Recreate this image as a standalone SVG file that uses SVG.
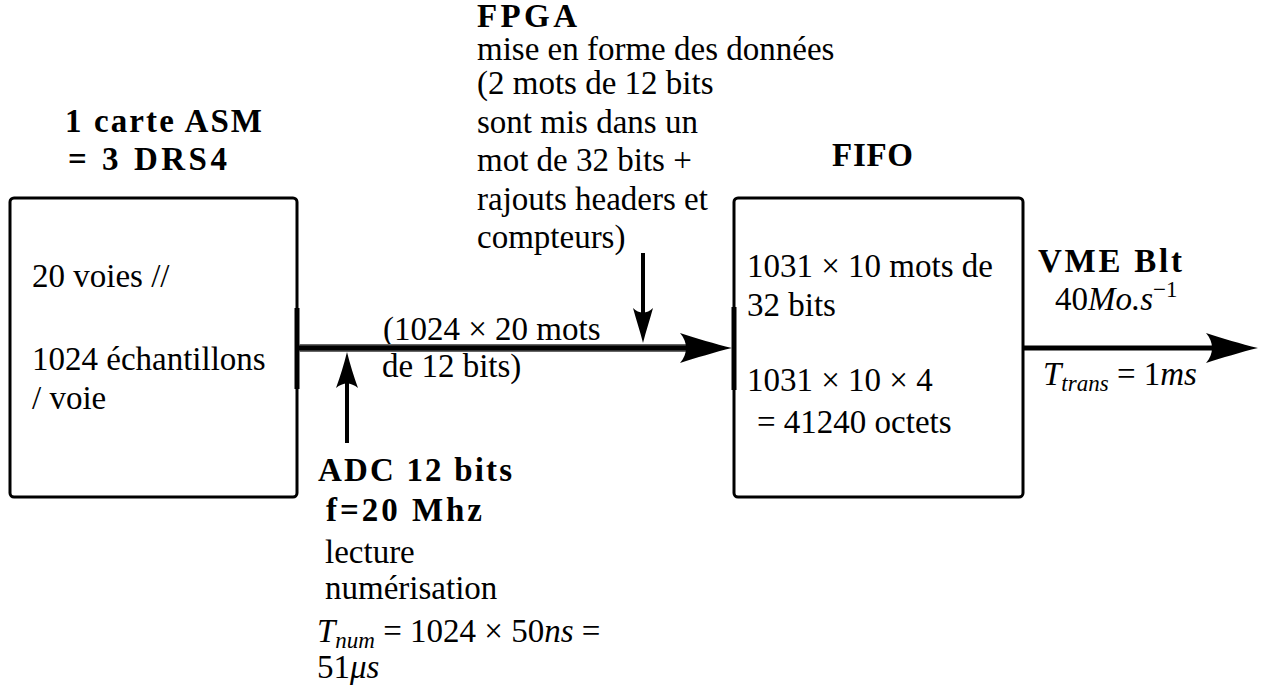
<svg xmlns="http://www.w3.org/2000/svg" width="1269" height="686" viewBox="0 0 1269 686">
<defs>
  <path id="ah" d="M0,0 C-17,-4 -36,-10 -52,-15 C-44,-6 -44,6 -52,15 C-36,10 -17,4 0,0Z" fill="#000"/>
</defs>
<rect width="1269" height="686" fill="#fff"/>
<g id="asm">
  <rect x="10" y="198" width="287" height="299" rx="4" fill="none" stroke="#000" stroke-width="3"/>
</g>
<text font-family="Liberation Serif" font-size="33" font-weight="bold" x="65" y="132" textLength="197" lengthAdjust="spacing">1 carte ASM</text>
<text font-family="Liberation Serif" font-size="33" font-weight="bold" x="68" y="170" textLength="159" lengthAdjust="spacing">= 3 DRS4</text>
<text font-family="Liberation Serif" font-size="33" x="32" y="287">20 voies //</text>
<text font-family="Liberation Serif" font-size="33" x="32" y="370">1024 échantillons</text>
<text font-family="Liberation Serif" font-size="33" x="32" y="409">/ voie</text>
<g id="fifo">
  <rect x="734" y="198" width="289" height="299" rx="4" fill="none" stroke="#000" stroke-width="3"/>
</g>
<text font-family="Liberation Serif" font-size="33" font-weight="bold" x="832" y="166" textLength="81" lengthAdjust="spacing">FIFO</text>
<text font-family="Liberation Serif" font-size="33" x="747" y="277">1031 × 10 mots de</text>
<text font-family="Liberation Serif" font-size="33" x="747" y="316">32 bits</text>
<text font-family="Liberation Serif" font-size="33" x="747" y="391">1031 × 10 × 4</text>
<text font-family="Liberation Serif" font-size="33" x="757" y="433">= 41240 octets</text>
<text font-family="Liberation Serif" font-size="33" font-weight="bold" x="477" y="27" textLength="100" lengthAdjust="spacing">FPGA</text>
<text font-family="Liberation Serif" font-size="33" x="477" y="60">mise en forme des données</text>
<text font-family="Liberation Serif" font-size="33" x="477" y="94">(2 mots de 12 bits</text>
<text font-family="Liberation Serif" font-size="33" x="477" y="133">sont mis dans un</text>
<text font-family="Liberation Serif" font-size="33" x="477" y="171">mot de 32 bits +</text>
<text font-family="Liberation Serif" font-size="33" x="477" y="210">rajouts headers et</text>
<text font-family="Liberation Serif" font-size="33" x="477" y="248">compteurs)</text>
<text font-family="Liberation Serif" font-size="33" font-weight="bold" x="318" y="481" textLength="194" lengthAdjust="spacing">ADC 12 bits</text>
<text font-family="Liberation Serif" font-size="33" font-weight="bold" x="326" y="521" textLength="156" lengthAdjust="spacing">f=20 Mhz</text>
<text font-family="Liberation Serif" font-size="33" x="325" y="563">lecture</text>
<text font-family="Liberation Serif" font-size="33" x="325" y="599">numérisation</text>
<text font-family="Liberation Serif" font-size="33" x="317" y="642"><tspan font-style="italic">T</tspan><tspan font-style="italic" font-size="23" dy="6">num</tspan><tspan dy="-6"> = 1024 × 50</tspan><tspan font-style="italic">ns</tspan> =</text>
<text font-family="Liberation Serif" font-size="33" x="317" y="678">51<tspan font-style="italic">μs</tspan></text>
<text font-family="Liberation Serif" font-size="33" x="383" y="340">(1024 × 20 mots</text>
<text font-family="Liberation Serif" font-size="33" x="382" y="377">de 12 bits)</text>
<text font-family="Liberation Serif" font-size="33" font-weight="bold" x="1038" y="272" textLength="144" lengthAdjust="spacing">VME Blt</text>
<text font-family="Liberation Serif" font-size="33" x="1055" y="310">40<tspan font-style="italic">Mo.s</tspan><tspan font-size="23" dy="-13">−1</tspan></text>
<text font-family="Liberation Serif" font-size="33" x="1043" y="385"><tspan font-style="italic">T</tspan><tspan font-style="italic" font-size="23" dy="6">trans</tspan><tspan dy="-6"> = 1</tspan><tspan font-style="italic">ms</tspan></text>
<g id="connectors">
  <line x1="297" y1="308" x2="297" y2="389" stroke="#000" stroke-width="5"/>
  <line x1="734" y1="307" x2="734" y2="390" stroke="#000" stroke-width="5"/>
  <line x1="299" y1="348" x2="692" y2="348" stroke="#666" stroke-width="8"/>
  <line x1="299" y1="348" x2="692" y2="348" stroke="#000" stroke-width="5"/>
  <use href="#ah" transform="translate(732,348)"/>
  <line x1="347" y1="443" x2="347" y2="375" stroke="#000" stroke-width="4"/>
  <path d="M347,352 C344,364 340,377 336,388 C343,382 351,382 358,388 C354,377 350,364 347,352Z" fill="#000"/>
  <line x1="643" y1="253" x2="643" y2="320" stroke="#000" stroke-width="4"/>
  <path d="M643,343 C640,331 636,319 633,308 C639,314 647,314 653,308 C650,319 646,331 643,343Z" fill="#000"/>
  <line x1="1023" y1="348" x2="1215" y2="348" stroke="#000" stroke-width="5"/>
  <use href="#ah" transform="translate(1258,348)"/>
</g>
</svg>
